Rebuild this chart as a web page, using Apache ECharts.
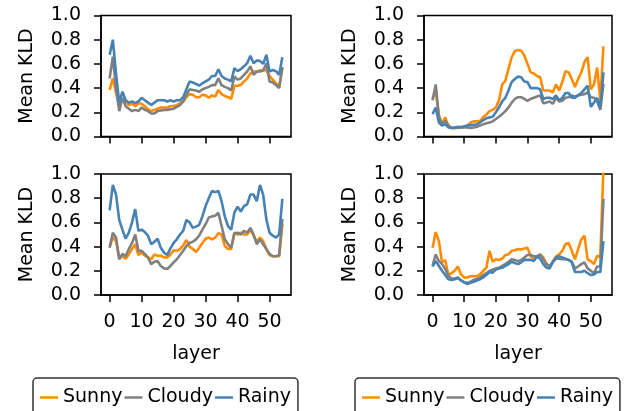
<!DOCTYPE html>
<html>
<head>
<meta charset="utf-8">
<script src="https://cdn.jsdelivr.net/npm/echarts@6/dist/echarts.min.js"></script>
<style>
html, body { margin: 0; padding: 0; background: #fff; }
#chart { width: 630px; height: 411px; }
</style>
</head>
<body>
<div id="chart"></div>
<script>
const layers = [0, 1, 2, 3, 4, 5, 6, 7, 8, 9, 10, 11, 12, 13, 14, 15, 16, 17, 18, 19,
    20, 21, 22, 23, 24, 25, 26, 27, 28, 29, 30, 31, 32, 33, 34, 35, 36, 37, 38, 39,
    40, 41, 42, 43, 44, 45, 46, 47, 48, 49, 50, 51, 52, 53, 54];
const xTicks = [0, 10, 20, 30, 40, 50];
const seriesNames = ['Sunny', 'Cloudy', 'Rainy'];

// top left panel
const sunnyTL = [0.385, 0.48, 0.36, 0.26, 0.30, 0.29, 0.26, 0.27, 0.25, 0.275,
    0.27, 0.25, 0.225, 0.21, 0.22, 0.23, 0.24, 0.24, 0.24, 0.25,
    0.25, 0.26, 0.275, 0.29, 0.325, 0.35, 0.345, 0.325, 0.325, 0.345,
    0.34, 0.32, 0.34, 0.33, 0.385, 0.35, 0.335, 0.325, 0.31, 0.42,
    0.42, 0.427, 0.455, 0.48, 0.52, 0.537, 0.537, 0.545, 0.55, 0.545,
    0.50, 0.47, 0.44, 0.41, 0.565];
const cloudyTL = [0.48, 0.66, 0.40, 0.21, 0.32, 0.25, 0.23, 0.21, 0.22, 0.21,
    0.24, 0.22, 0.21, 0.19, 0.19, 0.21, 0.215, 0.22, 0.22, 0.225,
    0.23, 0.245, 0.26, 0.29, 0.345, 0.39, 0.385, 0.38, 0.37, 0.39,
    0.40, 0.41, 0.425, 0.425, 0.48, 0.425, 0.41, 0.40, 0.38, 0.496,
    0.47, 0.48, 0.51, 0.537, 0.58, 0.51, 0.537, 0.537, 0.545, 0.606,
    0.455, 0.446, 0.427, 0.40, 0.573];
const rainyTL = [0.675, 0.80, 0.52, 0.28, 0.37, 0.30, 0.28, 0.29, 0.275, 0.29,
    0.32, 0.30, 0.28, 0.26, 0.28, 0.30, 0.30, 0.30, 0.29, 0.30,
    0.29, 0.30, 0.30, 0.325, 0.39, 0.455, 0.446, 0.435, 0.42, 0.44,
    0.455, 0.47, 0.50, 0.50, 0.556, 0.50, 0.48, 0.47, 0.455, 0.565,
    0.54, 0.556, 0.58, 0.606, 0.667, 0.606, 0.628, 0.625, 0.60, 0.675,
    0.537, 0.55, 0.54, 0.51, 0.655];

// top right panel
const sunnyTR = [0.31, 0.38, 0.18, 0.10, 0.158, 0.09, 0.07, 0.07, 0.07, 0.08,
    0.08, 0.09, 0.115, 0.125, 0.125, 0.13, 0.16, 0.18, 0.21, 0.22,
    0.24, 0.30, 0.43, 0.46, 0.56, 0.655, 0.705, 0.715, 0.71, 0.67,
    0.60, 0.53, 0.52, 0.50, 0.49, 0.38, 0.38, 0.38, 0.365, 0.43,
    0.38, 0.45, 0.54, 0.53, 0.475, 0.41, 0.475, 0.53, 0.615, 0.655,
    0.39, 0.43, 0.57, 0.30, 0.745];
const cloudyTR = [0.30, 0.43, 0.16, 0.10, 0.13, 0.09, 0.07, 0.07, 0.075, 0.075,
    0.075, 0.075, 0.07, 0.075, 0.08, 0.09, 0.10, 0.11, 0.115, 0.125,
    0.145, 0.163, 0.185, 0.21, 0.24, 0.28, 0.31, 0.325, 0.325, 0.31,
    0.295, 0.31, 0.32, 0.33, 0.34, 0.275, 0.28, 0.29, 0.27, 0.32,
    0.29, 0.295, 0.32, 0.325, 0.34, 0.33, 0.34, 0.345, 0.35, 0.365,
    0.325, 0.32, 0.29, 0.22, 0.435];
const rainyTR = [0.185, 0.24, 0.115, 0.09, 0.10, 0.075, 0.07, 0.075, 0.08, 0.075,
    0.083, 0.09, 0.094, 0.097, 0.10, 0.115, 0.135, 0.15, 0.158, 0.163,
    0.20, 0.24, 0.29, 0.32, 0.38, 0.45, 0.475, 0.495, 0.49, 0.455,
    0.45, 0.40, 0.40, 0.40, 0.39, 0.31, 0.32, 0.32, 0.31, 0.34,
    0.30, 0.32, 0.36, 0.36, 0.32, 0.32, 0.34, 0.36, 0.39, 0.42,
    0.245, 0.28, 0.32, 0.24, 0.53];

// bottom left panel
const sunnyBL = [0.40, 0.475, 0.445, 0.31, 0.32, 0.30, 0.335, 0.38, 0.42, 0.33,
    0.35, 0.325, 0.31, 0.295, 0.335, 0.325, 0.325, 0.31, 0.31, 0.335,
    0.37, 0.365, 0.38, 0.41, 0.455, 0.40, 0.38, 0.355, 0.39, 0.43,
    0.465, 0.475, 0.46, 0.475, 0.51, 0.50, 0.405, 0.38, 0.38, 0.515,
    0.50, 0.515, 0.50, 0.50, 0.54, 0.49, 0.44, 0.475, 0.445, 0.38,
    0.33, 0.32, 0.32, 0.32, 0.585];
const cloudyBL = [0.39, 0.515, 0.475, 0.295, 0.34, 0.32, 0.38, 0.43, 0.50, 0.365,
    0.365, 0.34, 0.31, 0.255, 0.275, 0.28, 0.24, 0.22, 0.215, 0.24,
    0.27, 0.295, 0.33, 0.365, 0.405, 0.43, 0.44, 0.46, 0.49, 0.54,
    0.585, 0.64, 0.65, 0.655, 0.68, 0.57, 0.46, 0.42, 0.39, 0.51,
    0.515, 0.50, 0.53, 0.515, 0.555, 0.50, 0.42, 0.46, 0.42, 0.38,
    0.34, 0.32, 0.32, 0.33, 0.63];
const rainyBL = [0.70, 0.91, 0.83, 0.62, 0.54, 0.465, 0.515, 0.60, 0.71, 0.53,
    0.54, 0.52, 0.49, 0.42, 0.44, 0.465, 0.39, 0.35, 0.33, 0.385,
    0.43, 0.46, 0.50, 0.53, 0.62, 0.60, 0.555, 0.565, 0.58, 0.65,
    0.735, 0.80, 0.86, 0.85, 0.86, 0.775, 0.65, 0.57, 0.54, 0.68,
    0.73, 0.69, 0.735, 0.75, 0.83, 0.83, 0.775, 0.91, 0.83, 0.625,
    0.515, 0.49, 0.475, 0.50, 0.795];

// bottom right panel
const sunnyBR = [0.39, 0.52, 0.445, 0.27, 0.29, 0.165, 0.18, 0.20, 0.235, 0.17,
    0.145, 0.145, 0.155, 0.155, 0.155, 0.17, 0.20, 0.225, 0.365, 0.275,
    0.295, 0.29, 0.30, 0.33, 0.335, 0.365, 0.37, 0.38, 0.375, 0.385,
    0.39, 0.32, 0.30, 0.31, 0.335, 0.31, 0.255, 0.24, 0.275, 0.32,
    0.335, 0.365, 0.42, 0.43, 0.365, 0.295, 0.38, 0.46, 0.49, 0.295,
    0.28, 0.255, 0.325, 0.31, 1.05];
const cloudyBR = [0.24, 0.335, 0.28, 0.255, 0.215, 0.16, 0.135, 0.135, 0.145, 0.12,
    0.105, 0.10, 0.11, 0.125, 0.135, 0.145, 0.165, 0.18, 0.20, 0.21,
    0.22, 0.225, 0.24, 0.255, 0.275, 0.295, 0.29, 0.28, 0.29, 0.31,
    0.33, 0.33, 0.32, 0.32, 0.335, 0.295, 0.255, 0.235, 0.27, 0.30,
    0.30, 0.295, 0.295, 0.29, 0.275, 0.22, 0.235, 0.255, 0.27, 0.22,
    0.20, 0.18, 0.235, 0.235, 0.795];
const rainyBR = [0.235, 0.28, 0.24, 0.20, 0.165, 0.13, 0.125, 0.13, 0.14, 0.12,
    0.105, 0.09, 0.10, 0.11, 0.12, 0.13, 0.145, 0.165, 0.19, 0.185,
    0.21, 0.22, 0.225, 0.24, 0.255, 0.275, 0.265, 0.255, 0.27, 0.29,
    0.29, 0.29, 0.28, 0.32, 0.30, 0.255, 0.225, 0.22, 0.275, 0.31,
    0.32, 0.31, 0.30, 0.29, 0.27, 0.19, 0.19, 0.19, 0.20, 0.18,
    0.165, 0.17, 0.19, 0.19, 0.445];

const panels = [
    [sunnyTL, cloudyTL, rainyTL],
    [sunnyTR, cloudyTR, rainyTR],
    [sunnyBL, cloudyBL, rainyBL],
    [sunnyBR, cloudyBR, rainyBR]
];
const colors = ['#ff8c00', '#808080', '#4682b4'];
const font = 'DejaVu Sans';
const fontSize = 19;

let chart = echarts.init(document.getElementById('chart'));

let grids = [
    {left: 101, top: 15.5, width: 190, height: 121},
    {left: 424, top: 15.5, width: 188, height: 121},
    {left: 101, top: 174, width: 190, height: 121},
    {left: 424, top: 174, width: 188, height: 121}
].map(function (g) {
    return Object.assign(g, {show: true, borderColor: '#000', borderWidth: 1.5, backgroundColor: '#fff'});
});

let axisLine = {show: true, onZero: false, lineStyle: {color: '#000', width: 1.5}};
let textStyle = {color: '#000', fontSize: fontSize, fontFamily: font};

let xAxes = grids.map(function (g, i) {
    return {
        type: 'value',
        gridIndex: i,
        min: -2.7,
        max: 56.7,
        axisLine: axisLine,
        axisTick: {show: true, length: 7, lineStyle: {color: '#000', width: 1.5}, customValues: xTicks},
        axisLabel: Object.assign({show: i >= 2, margin: 18, customValues: xTicks}, textStyle),
        splitLine: {show: false},
        name: i >= 2 ? 'layer' : '',
        nameLocation: 'middle',
        nameGap: 50,
        nameTextStyle: textStyle
    };
});

let yAxes = grids.map(function (g, i) {
    return {
        type: 'value',
        gridIndex: i,
        min: 0,
        max: 1,
        interval: 0.2,
        axisLine: axisLine,
        axisTick: {show: true, length: 7, lineStyle: {color: '#000', width: 1.5}},
        axisLabel: Object.assign({
            margin: 20,
            formatter: function (v) {
                return v.toFixed(1);
            }
        }, textStyle),
        splitLine: {show: false},
        name: 'Mean KLD',
        nameLocation: 'middle',
        nameGap: 64,
        nameTextStyle: textStyle
    };
});

let series = [];
panels.forEach(function (panel, p) {
    panel.forEach(function (values, s) {
        series.push({
            name: seriesNames[s],
            type: 'line',
            xAxisIndex: p,
            yAxisIndex: p,
            data: values.map(function (v, k) {
                return [layers[k], v];
            }),
            showSymbol: false,
            symbol: 'none',
            clip: true,
            lineStyle: {color: colors[s], width: 2.6},
            itemStyle: {color: colors[s]}
        });
    });
});

let legendBase = {
    data: seriesNames,
    top: 378,
    orient: 'horizontal',
    icon: 'rect',
    itemWidth: 18,
    itemHeight: 2.5,
    itemGap: 2,
    padding: [10, 7, 14, 7],
    borderColor: '#333',
    borderWidth: 1.5,
    borderRadius: 4,
    selectedMode: false,
    textStyle: textStyle
};

let option = {
    animation: false,
    backgroundColor: '#fff',
    grid: grids,
    xAxis: xAxes,
    yAxis: yAxes,
    legend: [
        Object.assign({left: 33}, legendBase),
        Object.assign({left: 355}, legendBase)
    ],
    series: series
};
chart.setOption(option);
</script>
</body>
</html>
